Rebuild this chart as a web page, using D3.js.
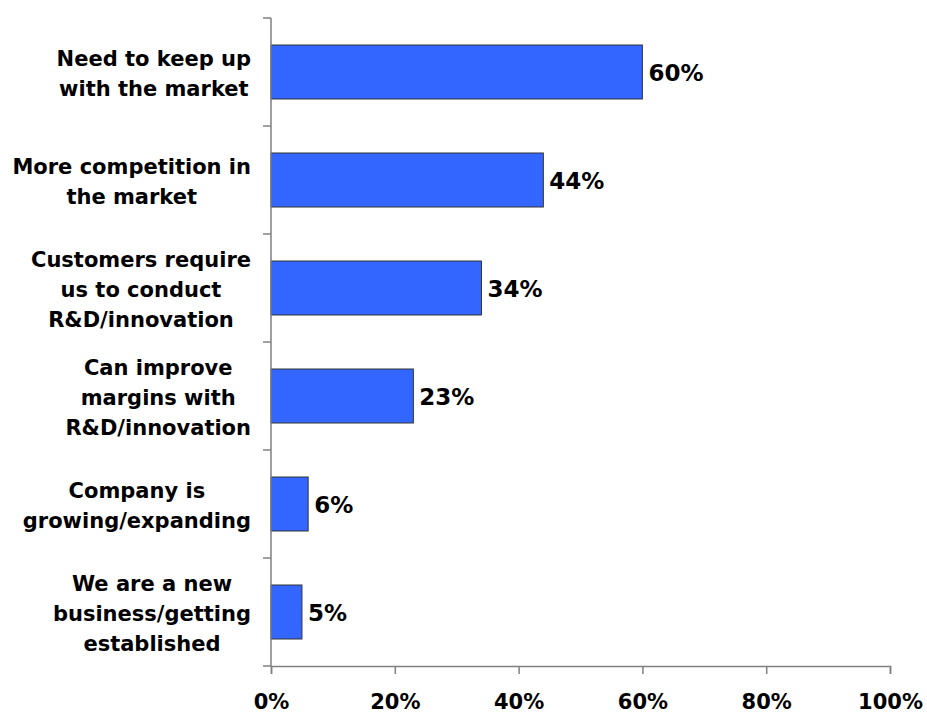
<!DOCTYPE html>
<html>
<head>
<meta charset="utf-8">
<script src="https://cdn.jsdelivr.net/npm/d3@7"></script>
<style>
  body { margin: 0; background: #fff; }
  text { font-family: "DejaVu Sans", Verdana, sans-serif; font-weight: bold; fill: #000; }
</style>
</head>
<body>
<div id="chart"></div>
<script>
var categories = [
    ["Need to keep up", "with the market"],
    ["More competition in", "the market"],
    ["Customers require", "us to conduct", "R&D/innovation"],
    ["Can improve", "margins with", "R&D/innovation"],
    ["Company is", "growing/expanding"],
    ["We are a new", "business/getting", "established"]
];
var values = [60, 44, 34, 23, 6, 5];
var tickValues = [0, 20, 40, 60, 80, 100];

var margin = { top: 18, right: 37, bottom: 47, left: 271 },
    width = 927 - margin.left - margin.right,
    height = 713 - margin.top - margin.bottom;

var svg = d3.select("#chart").append("svg")
    .attr("width", 927)
    .attr("height", 713);

var g = svg.append("g")
    .attr("transform", "translate(" + margin.left + "," + margin.top + ")");

var x = d3.scaleLinear().domain([0, 100]).range([0, width]);
var y = d3.scaleBand().domain(d3.range(values.length)).range([0, height])
    .paddingInner(0.5).paddingOuter(0.25);

// bars
g.selectAll("rect.bar")
    .data(values)
    .enter().append("rect")
    .attr("class", "bar")
    .attr("x", 0)
    .attr("y", function(d, i) { return y(i); })
    .attr("width", function(d) { return x(d); })
    .attr("height", y.bandwidth())
    .attr("fill", "#3366ff")
    .attr("stroke", "#333")
    .attr("stroke-width", 1);

// value labels
g.selectAll("text.val")
    .data(values)
    .enter().append("text")
    .attr("class", "val")
    .attr("x", function(d) { return x(d) + 6; })
    .attr("y", function(d, i) { return y(i) + y.bandwidth() / 2 + 8.5; })
    .style("font-size", "23px")
    .text(function(d) { return d + "%"; });

// y axis line + ticks between bands
var step = y.step();
g.append("line")
    .attr("x1", 0).attr("x2", 0)
    .attr("y1", 0).attr("y2", height)
    .attr("stroke", "#7f7f7f").attr("stroke-width", 1.5);
g.selectAll("line.ytick")
    .data(d3.range(values.length + 1))
    .enter().append("line")
    .attr("class", "ytick")
    .attr("x1", -8).attr("x2", 0)
    .attr("y1", function(d) { return d * step; })
    .attr("y2", function(d) { return d * step; })
    .attr("stroke", "#7f7f7f").attr("stroke-width", 1.5);

// category labels, lines centred within a right-aligned block
g.selectAll("g.cat")
    .data(categories)
    .enter().append("g")
    .attr("class", "cat")
    .each(function(lines, i) {
        var grp = d3.select(this);
        var lh = 30;
        var cy = y(i) + y.bandwidth() / 2;
        var t = grp.selectAll("text").data(lines).enter().append("text")
            .style("font-size", "21px")
            .attr("text-anchor", "middle")
            .attr("y", function(d, j) { return cy + 8.5 + (j - (lines.length - 1) / 2) * lh; })
            .text(function(d) { return d; });
        var maxW = 0;
        t.each(function() { maxW = Math.max(maxW, this.getComputedTextLength()); });
        t.attr("x", -20 - maxW / 2);
    });

// x axis
var xAxis = g.append("g")
    .attr("transform", "translate(0," + height + ")")
    .call(d3.axisBottom(x).tickValues(tickValues).tickSize(8).tickSizeOuter(8).tickPadding(20)
        .tickFormat(function(d) { return d + "%"; }));
xAxis.select(".domain").attr("stroke", "#7f7f7f").attr("stroke-width", 1.5);
xAxis.selectAll(".tick line").attr("stroke", "#7f7f7f").attr("stroke-width", 1.5);
xAxis.selectAll(".tick text")
    .style("font-size", "21px")
    .style("font-family", "'DejaVu Sans', Verdana, sans-serif")
    .style("font-weight", "bold")
    .attr("fill", "#000");
</script>
</body>
</html>
